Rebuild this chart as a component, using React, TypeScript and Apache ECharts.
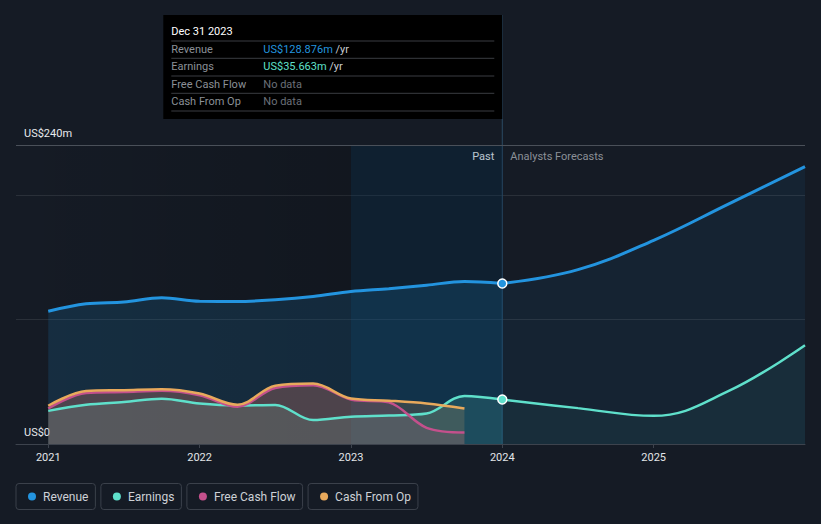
import React, { useEffect, useRef } from "react";
import * as echarts from "echarts";

// ---- data ----
const X_MIN = 2020.787;
const X_MAX = 2026;
const Y_MAX = 240;
const yearTicks = [2021, 2022, 2023, 2024, 2025];
const yLabelValues = [0, 240];

const pastX = [2021, 2021.25, 2021.5, 2021.75, 2022, 2022.25, 2022.5, 2022.75, 2023, 2023.25, 2023.5, 2023.75, 2024];
const revenuePast = [106.6, 112.5, 114.0, 117.3, 114.5, 114.4, 115.8, 118.4, 122.4, 124.7, 127.5, 130.4, 128.876];
const earningsPast = [26.6, 31.5, 33.7, 36.3, 32.5, 31.0, 31.4, 19.2, 21.9, 22.9, 24.5, 38.5, 35.663];
const cashOpPast = [30.7, 42.5, 43.2, 44.0, 40.5, 31.5, 46.7, 48.5, 36.5, 34.8, 32.5, 28.5];
const fcfPast = [28.5, 41.0, 41.8, 42.7, 39.2, 30.0, 45.0, 47.2, 35.7, 33.4, 13.0, 9.3];

const forecastX = [2024, 2024.5, 2025, 2025.5, 2026];
const revenueForecast = [128.876, 140.0, 163.5, 193.0, 222.6];
const earningsForecast = [35.663, 28.8, 22.6, 42.8, 79.2];

const PAST_START = 2023;
const NOW_X = 2024;
const tooltipDate = "Dec 31 2023";

const C_BG = "#151b25";
const C_REV = "#2394df";
const C_EARN = "#5fe0cb";
const C_FCF = "#c4508c";
const C_COP = "#e8a95c";

const pairs = (xs: number[], ys: number[]) => ys.map((y, i) => [xs[i], y]);

export default function App() {
  const ref = useRef<HTMLDivElement>(null);
  useEffect(() => {
    document.body.style.margin = "0";
    document.body.style.background = C_BG;
    const chart = echarts.init(ref.current!, null, { renderer: "svg" });
    const font = "Roboto, 'Noto Sans', sans-serif";
    const names = ["Revenue", "Earnings", "Free Cash Flow", "Cash From Op"];
    const colors = [C_REV, C_EARN, C_FCF, C_COP];
    const rich: any = {
      t: { color: "#cdd1d6", fontSize: 12, fontFamily: font, padding: [0, 0, 0, 7], lineHeight: 14 },
    };
    colors.forEach((c, i) => {
      rich["d" + i] = { width: 8, height: 8, borderRadius: 4, backgroundColor: c };
    });

    const firstPoint = (x: number, y: number, color: string) => ({
      value: [x, y],
      symbol: "circle",
      symbolSize: 9,
      itemStyle: { color, borderColor: "#ffffff", borderWidth: 1.5 },
    });

    chart.setOption({
      animation: false,
      backgroundColor: C_BG,
      grid: { left: 16, right: 16, top: 145, bottom: 80 },
      legend: {
        left: 6,
        top: 478,
        itemWidth: 0,
        itemHeight: 0,
        itemGap: 0,
        icon: "rect",
        selectedMode: false,
        data: names,
        formatter: (name: string) => `{d${names.indexOf(name)}|}{t|${name}}`,
        textStyle: {
          rich,
          borderColor: "#3b414b",
          borderWidth: 1,
          borderRadius: 3,
          padding: [6, 7, 6, 12],
        },
      },
      xAxis: {
        type: "value",
        min: X_MIN,
        max: X_MAX,
        splitLine: { show: false },
        axisLine: { show: true, lineStyle: { color: "#3d434d" } },
        axisTick: { show: true, customValues: yearTicks, length: 4, lineStyle: { color: "#3d434d" } },
        axisLabel: {
          customValues: yearTicks,
          formatter: (v: number) => String(Math.round(v)),
          color: "#e3e5e8",
          fontSize: 11,
          fontFamily: font,
          margin: 8,
        },
      },
      yAxis: {
        type: "value",
        min: 0,
        max: Y_MAX,
        interval: 100,
        axisLine: { show: false },
        axisTick: { show: false },
        splitLine: { lineStyle: { color: "#2a3039" } },
        axisLabel: {
          inside: true,
          customValues: yLabelValues,
          formatter: (v: number) => (v === 0 ? "US$0" : `US$${v}m`),
          color: "#e8eaed",
          fontSize: 11,
          fontFamily: font,
          margin: 8,
          verticalAlign: "bottom",
          padding: [0, 0, 6, 0],
        },
      },
      series: [
        {
          type: "line",
          z: 1,
          data: [],
          silent: true,
          markArea: {
            silent: true,
            data: [
              [
                {
                  xAxis: X_MIN,
                  itemStyle: {
                    color: new echarts.graphic.LinearGradient(0, 0, 1, 0, [
                      { offset: 0, color: "rgba(0,0,0,0)" },
                      { offset: 1, color: "rgba(0,0,0,0.16)" },
                    ]),
                  },
                },
                { xAxis: PAST_START },
              ],
              [{ xAxis: PAST_START, itemStyle: { color: "rgba(0,45,80,0.28)" } }, { xAxis: NOW_X }],
            ],
          },
          markLine: {
            silent: true,
            symbol: "none",
            label: { show: false },
            lineStyle: { color: "#4a5059", width: 1, type: "solid" },
            data: [{ yAxis: Y_MAX }],
          },
        },
        {
          name: "Revenue",
          type: "line",
          z: 2,
          smooth: 0.35,
          symbol: "none",
          color: C_REV,
          lineStyle: { width: 3, color: C_REV },
          areaStyle: { color: "rgba(35,148,223,0.22)" },
          data: pairs(pastX, revenuePast),
        },
        {
          name: "Revenue",
          type: "line",
          z: 2,
          smooth: 0.4,
          symbol: "none",
          color: C_REV,
          lineStyle: { width: 3, color: C_REV },
          areaStyle: { color: "rgba(35,148,223,0.1)" },
          data: revenueForecast.map((y, i) =>
            i === 0 ? firstPoint(forecastX[i], y, C_REV) : [forecastX[i], y]
          ),
        },
        {
          name: "Earnings",
          type: "line",
          z: 2,
          smooth: 0.35,
          symbol: "none",
          color: C_EARN,
          lineStyle: { width: 2.5, color: C_EARN },
          areaStyle: { color: "rgba(95,224,203,0.22)" },
          data: pairs(pastX, earningsPast),
        },
        {
          name: "Earnings",
          type: "line",
          z: 2,
          smooth: 0.4,
          symbol: "none",
          color: C_EARN,
          lineStyle: { width: 2.5, color: C_EARN },
          areaStyle: { color: "rgba(95,224,203,0.08)" },
          data: earningsForecast.map((y, i) =>
            i === 0 ? firstPoint(forecastX[i], y, C_EARN) : [forecastX[i], y]
          ),
        },
        {
          name: "Free Cash Flow",
          type: "line",
          z: 2,
          smooth: 0.35,
          symbol: "none",
          color: C_FCF,
          lineStyle: { width: 2.5, color: C_FCF },
          areaStyle: { color: "rgba(196,80,140,0.22)" },
          data: pairs(pastX, fcfPast),
        },
        {
          name: "Cash From Op",
          type: "line",
          z: 2,
          smooth: 0.35,
          symbol: "none",
          color: C_COP,
          lineStyle: { width: 2.5, color: C_COP },
          areaStyle: { color: "rgba(232,169,92,0.24)" },
          data: pairs(pastX, cashOpPast),
        },
      ],
    });

    // overlay: tooltip box, "now" line, past/forecast captions
    const [lx, y0] = chart.convertToPixel({ gridIndex: 0 }, [NOW_X, 0]) as number[];
    const yTop = (chart.convertToPixel({ gridIndex: 0 }, [NOW_X, Y_MAX]) as number[])[1];
    const boxW = 339;
    const boxH = 104;
    const bx = lx - boxW;
    const by = yTop - 130;
    const revNow = revenuePast[revenuePast.length - 1];
    const earnNow = earningsPast[earningsPast.length - 1];
    const tf = { fontSize: 11, fontFamily: font, verticalAlign: "middle" };
    const rows = [
      { label: "Revenue", text: `{v|US$${revNow.toFixed(3)}m}{u| /yr}`, color: C_REV },
      { label: "Earnings", text: `{v|US$${earnNow.toFixed(3)}m}{u| /yr}`, color: C_EARN },
      { label: "Free Cash Flow", text: "{n|No data}", color: C_FCF },
      { label: "Cash From Op", text: "{n|No data}", color: C_COP },
    ];
    const rowY = [34.3, 51.7, 69.3, 86];
    const divY = [26, 43.3, 61, 78.3, 96];
    const els: any[] = [
      { type: "line", silent: true, shape: { x1: lx, y1: by, x2: lx, y2: y0 }, style: { stroke: "#2b4a63", lineWidth: 1 } },
      { type: "rect", silent: true, shape: { x: bx, y: by, width: boxW, height: boxH }, style: { fill: "#000000" } },
      { type: "text", silent: true, x: bx + 8, y: by + 16, style: { ...tf, text: tooltipDate, fill: "#ffffff" } },
      { type: "text", silent: true, x: lx - 8, y: yTop + 11, style: { ...tf, text: "Past", fill: "#ffffff", align: "right" } },
      { type: "text", silent: true, x: lx + 8, y: yTop + 11, style: { ...tf, text: "Analysts Forecasts", fill: "#8b9097", align: "left" } },
    ];
    divY.forEach((d) =>
      els.push({
        type: "line",
        silent: true,
        shape: { x1: bx + 8, y1: by + d, x2: lx - 8, y2: by + d },
        style: { stroke: "#3a3d42", lineWidth: 1 },
      })
    );
    rows.forEach((r, i) => {
      els.push({ type: "text", silent: true, x: bx + 8, y: by + rowY[i], style: { ...tf, text: r.label, fill: "#8b9097" } });
      els.push({
        type: "text",
        silent: true,
        x: bx + 100,
        y: by + rowY[i],
        style: {
          ...tf,
          text: r.text,
          rich: {
            v: { fill: r.color, fontSize: 11, fontFamily: font },
            u: { fill: "#c9cdd2", fontSize: 11, fontFamily: font },
            n: { fill: "#6b7079", fontSize: 11, fontFamily: font },
          },
        },
      });
    });
    chart.setOption({ graphic: { elements: els } });

    return () => chart.dispose();
  }, []);
  return <div ref={ref} style={{ width: 821, height: 524 }} />;
}
